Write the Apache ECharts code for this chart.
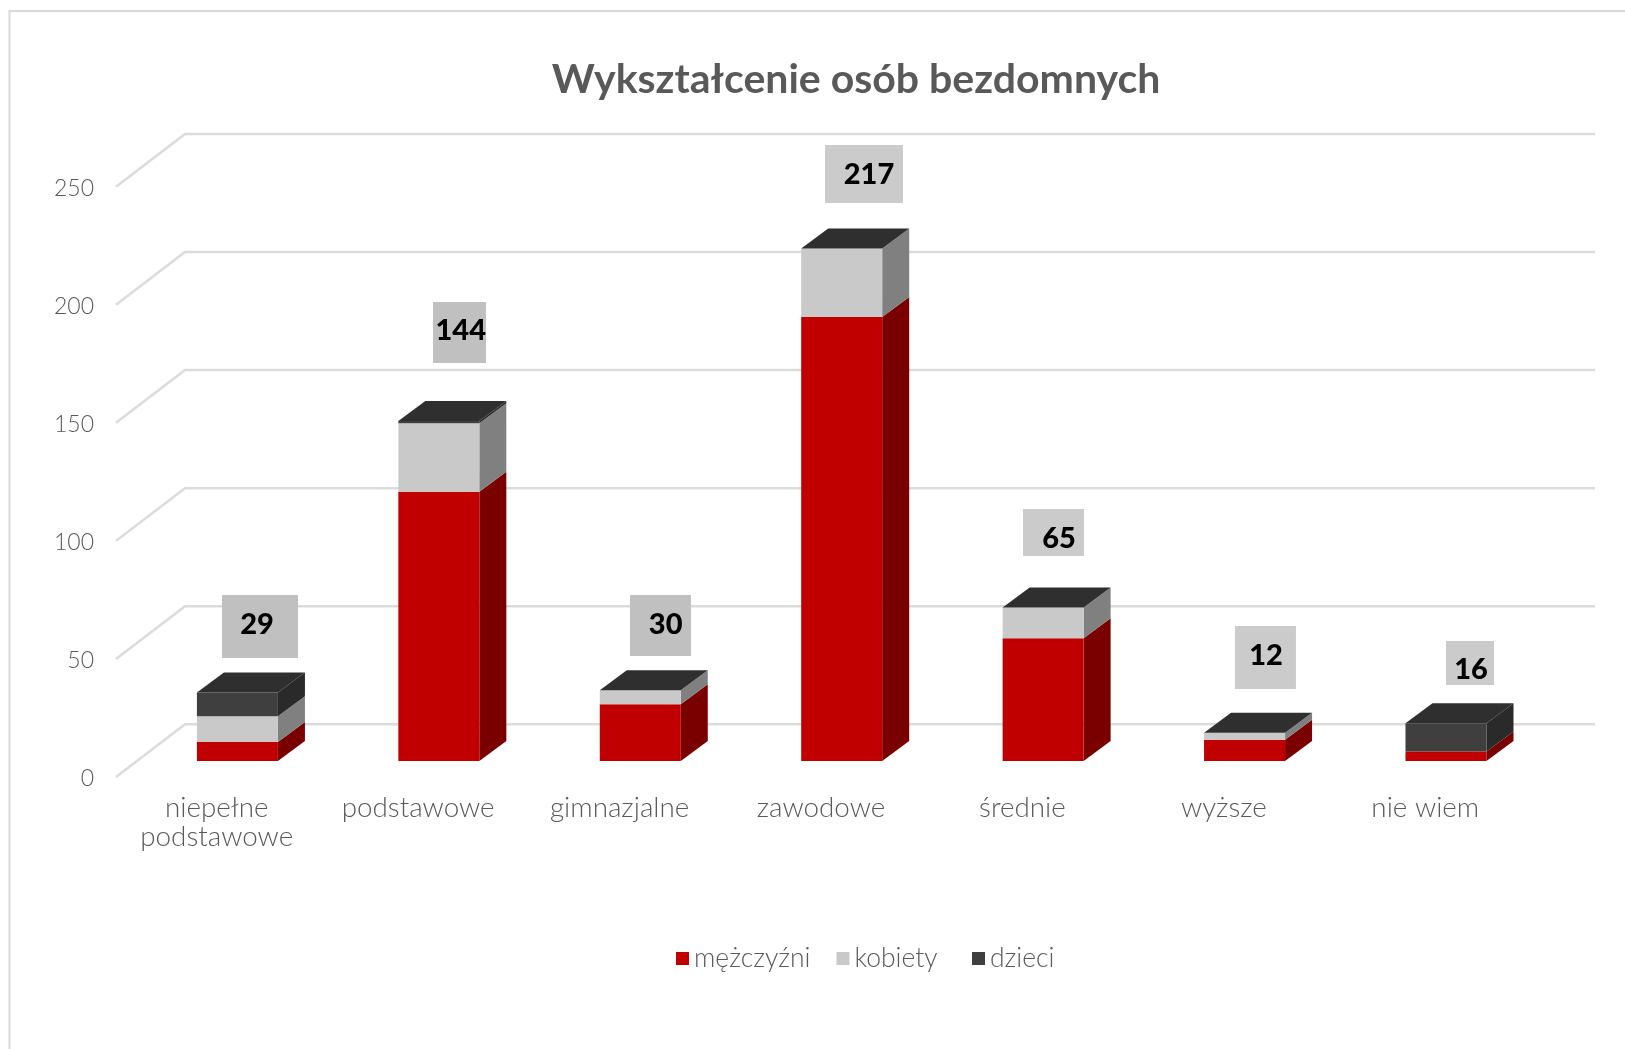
<!DOCTYPE html>
<html>
<head>
<meta charset="utf-8">
<title>Wykształcenie osób bezdomnych</title>
<script src="https://cdn.jsdelivr.net/npm/echarts@6/dist/echarts.min.js"></script>
<style>
html, body { margin: 0; padding: 0; background: #fff; }
#chart { width: 1625px; height: 1049px; }
</style>
</head>
<body>
<div id="chart"></div>
<script>
var categories = ['niepełne\npodstawowe', 'podstawowe', 'gimnazjalne', 'zawodowe', 'średnie', 'wyższe', 'nie wiem'];
var mezczyzni = [8, 114, 24, 188, 52, 9, 4];
var kobiety = [11, 29, 6, 29, 13, 3, 0];
var dzieci = [10, 1, 0, 0, 0, 0, 12];
var sumy = [29, 144, 30, 217, 65, 12, 16];
var yTicks = [0, 50, 100, 150, 200, 250];
var seriesNames = ['mężczyźni', 'kobiety', 'dzieci'];

// ramki z sumami: przesuniecie wzgledem wierzcholka slupka (dx, dy, szer, wys, tekst dx, tekst dy, kolor)
var labelBoxes = [
    [5.3, -97.5, 76, 63, 40.3, -67.5, '#c0c0c0'],
    [14.9, -119, 53, 61, 42.6, -90.3, '#c0c0c0'],
    [10.4, -95.2, 61, 61, 46.1, -65.2, '#c0c0c0'],
    [4, -103.6, 78, 58, 48, -73.6, '#cbcbcb'],
    [0.6, -98.5, 61, 47, 36.6, -69, '#cbcbcb'],
    [11.1, -106.7, 61, 63, 42.1, -76.7, '#cbcbcb'],
    [20.7, -82.2, 48, 44, 45.7, -53.2, '#cbcbcb']
];

var FONT = 'Lato';
var TEXT = '#595959';

// pseudo 3D: sciana tylna i polozenie slupka w glebi
var WALL_X = 69, WALL_Y = 52.7;
var BAR_X = 20.7, BAR_Y = 16;
var DEPTH_X = 27, DEPTH_Y = 20;
var BAR_W = 81;

function stackData(values, below) {
    return values.map(function (v, i) {
        var base = 0;
        below.forEach(function (b) { base += b[i]; });
        return [i, base, base + v];
    });
}

function poly(points, color) {
    return { type: 'polygon', shape: { points: points }, style: { fill: color } };
}

function segment(front, side, top) {
    return function (params, api) {
        var bottom = api.coord([api.value(0), api.value(1)]);
        var upper = api.coord([api.value(0), api.value(2)]);
        var x0 = bottom[0] - BAR_W / 2 + BAR_X;
        var x1 = x0 + BAR_W;
        var y0 = bottom[1] - BAR_Y;
        var y1 = upper[1] - BAR_Y;
        var children = [];
        if (y0 - y1 > 0) {
            children.push(poly([[x1, y1], [x1 + DEPTH_X, y1 - DEPTH_Y], [x1 + DEPTH_X, y0 - DEPTH_Y], [x1, y0]], side));
            children.push(poly([[x0, y1], [x1, y1], [x1, y0], [x0, y0]], front));
        }
        if (top) {
            children.push(poly([[x0, y1], [x0 + DEPTH_X, y1 - DEPTH_Y], [x1 + DEPTH_X, y1 - DEPTH_Y], [x1, y1]], top));
        }
        return { type: 'group', children: children };
    };
}

function renderWall(params, api) {
    var p = api.coord([0, api.value(1)]);
    var g = params.coordSys;
    return {
        type: 'polyline',
        shape: { points: [[g.x, p[1]], [g.x + WALL_X, p[1] - WALL_Y], [g.x + g.width + WALL_X, p[1] - WALL_Y]] },
        style: { fill: null, stroke: '#dcdcdc', lineWidth: 2.5 }
    };
}

function renderLabel(params, api) {
    var i = api.value(0);
    var p = api.coord([i, api.value(1)]);
    var b = labelBoxes[i];
    var top = p[1] - BAR_Y;
    return {
        type: 'group',
        children: [
            { type: 'rect', shape: { x: p[0] + b[0], y: top + b[1], width: b[2], height: b[3] }, style: { fill: b[6] } },
            {
                type: 'text',
                x: p[0] + b[4],
                y: top + b[5],
                style: {
                    text: String(sumy[i]),
                    fill: '#000',
                    font: '900 29px ' + FONT,
                    align: 'center',
                    verticalAlign: 'middle'
                }
            }
        ]
    };
}

function legendAt(names, left) {
    return {
        data: names,
        left: left,
        top: 945,
        padding: 0,
        icon: 'rect',
        itemWidth: 13,
        itemHeight: 13,
        itemGap: 26,
        textStyle: { fontFamily: FONT, fontSize: 26.5, fontWeight: 300, color: TEXT }
    };
}

var echar = echarts.init(document.getElementById('chart'));
var option = {
    animation: false,
    backgroundColor: '#fff',
    title: {
        text: 'Wykształcenie osób bezdomnych',
        left: 851,
        top: 75,
        textAlign: 'center',
        textVerticalAlign: 'middle',
        textStyle: { fontFamily: FONT, fontSize: 41, fontWeight: 'bold', color: TEXT }
    },
    legend: [legendAt(seriesNames.slice(0, 2), 676), legendAt(seriesNames.slice(2), 972)],
    grid: { left: 116, right: 99, top: 186.7, bottom: 272 },
    xAxis: {
        type: 'category',
        data: categories,
        axisLine: { show: false },
        axisTick: { show: false },
        axisLabel: {
            interval: 0,
            margin: 17,
            lineHeight: 29,
            fontFamily: FONT,
            fontSize: 27.8,
            fontWeight: 300,
            color: TEXT
        }
    },
    yAxis: {
        type: 'value',
        min: yTicks[0],
        max: yTicks[yTicks.length - 1],
        interval: 50,
        axisLine: { show: false },
        axisTick: { show: false },
        splitLine: { show: false },
        axisLabel: { margin: 22, verticalAlign: 'top', lineHeight: 4, fontFamily: FONT, fontSize: 23, fontWeight: 300, color: TEXT }
    },
    graphic: [{
        type: 'polyline',
        silent: true,
        shape: { points: [[9.5, 1049], [9.5, 11], [1625, 11]] },
        style: { fill: null, stroke: '#d9d9d9', lineWidth: 2 }
    }],
    series: [
        {
            name: 'sciana',
            type: 'custom',
            renderItem: renderWall,
            silent: true,
            encode: { x: 0, y: 1 },
            data: yTicks.map(function (t) { return [0, t]; })
        },
        {
            name: seriesNames[0],
            type: 'custom',
            renderItem: segment('#c00000', '#7a0000'),
            itemStyle: { color: '#c00000' },
            encode: { x: 0, y: [1, 2] },
            data: stackData(mezczyzni, [])
        },
        {
            name: seriesNames[1],
            type: 'custom',
            renderItem: segment('#c9c9c9', '#808080'),
            itemStyle: { color: '#c9c9c9' },
            encode: { x: 0, y: [1, 2] },
            data: stackData(kobiety, [mezczyzni])
        },
        {
            name: seriesNames[2],
            type: 'custom',
            renderItem: segment('#3f3f3f', '#2a2a2a', '#2f2f2f'),
            itemStyle: { color: '#3f3f3f' },
            encode: { x: 0, y: [1, 2] },
            data: stackData(dzieci, [mezczyzni, kobiety])
        },
        {
            name: 'sumy',
            type: 'custom',
            renderItem: renderLabel,
            silent: true,
            encode: { x: 0, y: 1 },
            data: sumy.map(function (s, i) { return [i, s]; })
        }
    ]
};
echar.setOption(option);
</script>
</body>
</html>
